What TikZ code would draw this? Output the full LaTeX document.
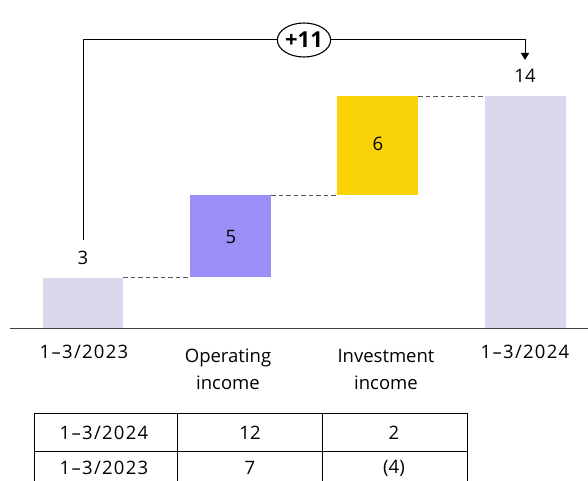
\documentclass[tikz,border=0pt]{standalone}
\usepackage{fontspec}
\setmainfont{Open Sans}
\usetikzlibrary{arrows.meta,shapes.geometric}
\definecolor{lav}{HTML}{D9D8EC}
\definecolor{purp}{HTML}{9A8EF7}
\definecolor{yel}{HTML}{F9D308}
\definecolor{dash}{HTML}{555555}
\newcommand{\dtlbl}[1]{{\addfontfeature{LetterSpace=7}#1}}
\tikzset{
  x=1pt,y=-1pt,
  lbl/.style={font=\fontsize{18.5}{27}\selectfont, text=black, inner sep=0pt},
  dlink/.style={draw=dash, dashed, dash pattern=on 4.5pt off 3pt, line width=0.9pt},
  conn/.style={draw=black, line width=1pt},
  cell/.style={draw=black, line width=0.9pt},
}
\begin{document}
\begin{tikzpicture}
\useasboundingbox (0,0) rectangle (588,481);
\fill[white] (0,0) rectangle (588,481);
% bars
\fill[lav] (43,278) rectangle (123,328);
\fill[purp] (190,195) rectangle (271,277);
\fill[yel] (337,96) rectangle (418,195);
\fill[lav] (485,96) rectangle (566,328);
\coordinate (b1) at (123,277);
\coordinate (b2l) at (190,277);
\coordinate (b2r) at (271,195);
\coordinate (b3l) at (337,195);
\coordinate (b3r) at (418,96);
\coordinate (b4l) at (485,96);
\draw[dlink] (b1) -- (b2l);
\draw[dlink] (b2r) -- (b3l);
\draw[dlink] (b3r) -- (b4l);
% baseline
\draw[line width=0.8pt, draw=black!75] (10,328) -- (588,328);
% value labels
\node[lbl] (v3) at (83,258) {3};
\node[lbl] (v5) at (231,237) {5};
\node[lbl] (v6) at (378,144) {6};
\node[lbl] (v14) at (525,76) {14};
% connector
\node[ellipse, draw=black, line width=1.1pt, minimum width=53pt, minimum height=34pt, inner sep=0pt, font=\bfseries\fontsize{22}{24}\selectfont] (d) at (304,40) {+11};
\coordinate (top1) at (83,40);
\coordinate (top2) at (525,40);
\coordinate (arr) at (525,60);
\draw[conn] (83,240) -- (top1) -- (d.west);
\draw[conn, -{Triangle[length=7pt,width=8pt]}] (d.east) -- (top2) -- (arr);
% axis labels
\node[lbl] (x1) at (84,352) {\dtlbl{1–3/2023}};
\node[lbl, align=center] (x2) at (228,369) {Operating\\income};
\node[lbl, align=center] (x3) at (386,369) {Investment\\income};
\node[lbl] (x4) at (525,352) {\dtlbl{1–3/2024}};
% table
\draw[cell] (34,413) -- (467,413);
\draw[cell] (34,451) -- (467,451);
\draw[cell] (34,413) -- (34,481);
\draw[cell] (177,413) -- (177,481);
\draw[cell] (322,413) -- (322,481);
\draw[cell] (467,413) -- (467,481);
\node[lbl] (t11) at (104,433) {\dtlbl{1–3/2024}};
\node[lbl] (t12) at (250,433) {12};
\node[lbl] (t13) at (394,433) {2};
\node[lbl] (t21) at (104,468) {\dtlbl{1–3/2023}};
\node[lbl] (t22) at (250,468) {7};
\node[lbl] (t23) at (394,468) {(4)};
\end{tikzpicture}
\end{document}
